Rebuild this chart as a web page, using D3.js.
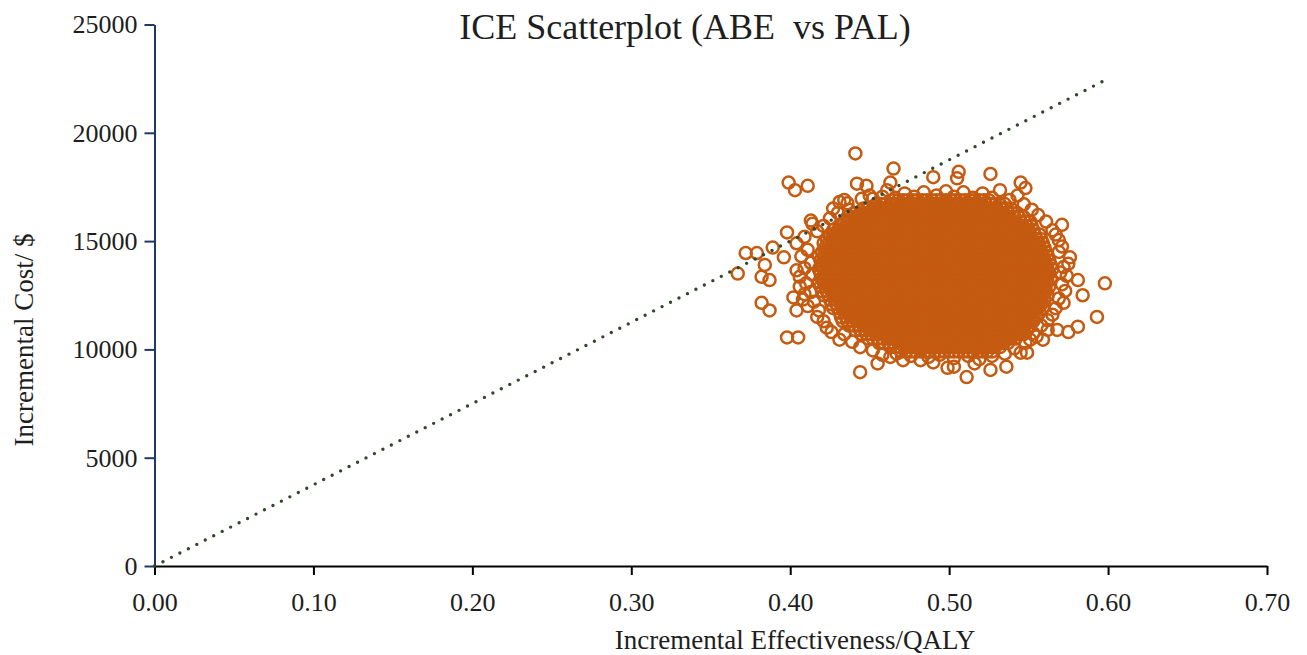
<!DOCTYPE html>
<html>
<head>
  <meta charset="UTF-8">
  <title>ICE Scatterplot (ABE vs PAL)</title>
  <style>
    body {
        margin: 0;
        background: #fff;
    }
    text {
        font-family: "Liberation Serif", "Times New Roman", serif;
        fill: #1e1e1e;
    }
  </style>
</head>
<body>
<svg id="chart"></svg>

<script src="https://d3js.org/d3.v7.min.js"></script>
<script>

// Axis ticks
const xTicks = [0, 0.1, 0.2, 0.3, 0.4, 0.5, 0.6, 0.7];
const yTicks = [0, 5000, 10000, 15000, 20000, 25000];

// Willingness-to-pay threshold line (dotted)
const wtpQaly = [0, 0.6];
const wtpCost = [0, 22500];

// Dense middle of the cloud: one cost level per row, incremental QALY values along the row
const coreCost = [16890, 16710, 16500, 16290, 16110, 15900, 15690, 15510, 15300, 15090,
                  14910, 14700, 14490, 14310, 14100, 13890, 13710, 13500, 13290, 13110,
                  12900, 12690, 12510, 12300, 12090, 11910, 11700, 11490, 11310, 11100,
                  10890, 10710, 10500, 10290, 10110, 9900];
const coreQaly = [
  [0.465,0.468,0.471,0.474,0.477,0.480,0.483,0.486,0.489,0.492,0.495,0.498,0.501,0.504,0.507,0.510,0.513,0.516,0.519,0.522,0.525],
  [0.454,0.457,0.460,0.463,0.466,0.469,0.472,0.475,0.478,0.481,0.484,0.487,0.490,0.493,0.496,0.499,0.502,0.505,0.508,0.511,0.514,0.517,0.520,0.523,0.526,0.529,0.532,0.535],
  [0.446,0.449,0.452,0.455,0.458,0.461,0.464,0.467,0.470,0.473,0.476,0.479,0.482,0.485,0.488,0.491,0.494,0.497,0.500,0.503,0.506,0.509,0.512,0.515,0.518,0.521,0.524,0.527,0.530,0.533,0.536,0.539],
  [0.441,0.444,0.447,0.450,0.453,0.456,0.459,0.462,0.465,0.468,0.471,0.474,0.477,0.480,0.483,0.486,0.489,0.492,0.495,0.498,0.501,0.504,0.507,0.510,0.513,0.516,0.519,0.522,0.525,0.528,0.531,0.534,0.537,0.540,0.543],
  [0.436,0.439,0.442,0.445,0.448,0.451,0.454,0.457,0.460,0.463,0.466,0.469,0.472,0.475,0.478,0.481,0.484,0.487,0.490,0.493,0.496,0.499,0.502,0.505,0.508,0.511,0.514,0.517,0.520,0.523,0.526,0.529,0.532,0.535,0.538,0.541,0.544,0.547],
  [0.434,0.437,0.440,0.443,0.446,0.449,0.452,0.455,0.458,0.461,0.464,0.467,0.470,0.473,0.476,0.479,0.482,0.485,0.488,0.491,0.494,0.497,0.500,0.503,0.506,0.509,0.512,0.515,0.518,0.521,0.524,0.527,0.530,0.533,0.536,0.539,0.542,0.545,0.548,0.551],
  [0.432,0.435,0.438,0.441,0.444,0.447,0.450,0.453,0.456,0.459,0.462,0.465,0.468,0.471,0.474,0.477,0.480,0.483,0.486,0.489,0.492,0.495,0.498,0.501,0.504,0.507,0.510,0.513,0.516,0.519,0.522,0.525,0.528,0.531,0.534,0.537,0.540,0.543,0.546,0.549,0.552],
  [0.427,0.430,0.433,0.436,0.439,0.442,0.445,0.448,0.451,0.454,0.457,0.460,0.463,0.466,0.469,0.472,0.475,0.478,0.481,0.484,0.487,0.490,0.493,0.496,0.499,0.502,0.505,0.508,0.511,0.514,0.517,0.520,0.523,0.526,0.529,0.532,0.535,0.538,0.541,0.544,0.547,0.550,0.553],
  [0.425,0.428,0.431,0.434,0.437,0.440,0.443,0.446,0.449,0.452,0.455,0.458,0.461,0.464,0.467,0.470,0.473,0.476,0.479,0.482,0.485,0.488,0.491,0.494,0.497,0.500,0.503,0.506,0.509,0.512,0.515,0.518,0.521,0.524,0.527,0.530,0.533,0.536,0.539,0.542,0.545,0.548,0.551,0.554,0.557],
  [0.423,0.426,0.429,0.432,0.435,0.438,0.441,0.444,0.447,0.450,0.453,0.456,0.459,0.462,0.465,0.468,0.471,0.474,0.477,0.480,0.483,0.486,0.489,0.492,0.495,0.498,0.501,0.504,0.507,0.510,0.513,0.516,0.519,0.522,0.525,0.528,0.531,0.534,0.537,0.540,0.543,0.546,0.549,0.552,0.555,0.558],
  [0.421,0.424,0.427,0.430,0.433,0.436,0.439,0.442,0.445,0.448,0.451,0.454,0.457,0.460,0.463,0.466,0.469,0.472,0.475,0.478,0.481,0.484,0.487,0.490,0.493,0.496,0.499,0.502,0.505,0.508,0.511,0.514,0.517,0.520,0.523,0.526,0.529,0.532,0.535,0.538,0.541,0.544,0.547,0.550,0.553,0.556,0.559],
  [0.422,0.425,0.428,0.431,0.434,0.437,0.440,0.443,0.446,0.449,0.452,0.455,0.458,0.461,0.464,0.467,0.470,0.473,0.476,0.479,0.482,0.485,0.488,0.491,0.494,0.497,0.500,0.503,0.506,0.509,0.512,0.515,0.518,0.521,0.524,0.527,0.530,0.533,0.536,0.539,0.542,0.545,0.548,0.551,0.554,0.557,0.560],
  [0.420,0.423,0.426,0.429,0.432,0.435,0.438,0.441,0.444,0.447,0.450,0.453,0.456,0.459,0.462,0.465,0.468,0.471,0.474,0.477,0.480,0.483,0.486,0.489,0.492,0.495,0.498,0.501,0.504,0.507,0.510,0.513,0.516,0.519,0.522,0.525,0.528,0.531,0.534,0.537,0.540,0.543,0.546,0.549,0.552,0.555,0.558,0.561],
  [0.418,0.421,0.424,0.427,0.430,0.433,0.436,0.439,0.442,0.445,0.448,0.451,0.454,0.457,0.460,0.463,0.466,0.469,0.472,0.475,0.478,0.481,0.484,0.487,0.490,0.493,0.496,0.499,0.502,0.505,0.508,0.511,0.514,0.517,0.520,0.523,0.526,0.529,0.532,0.535,0.538,0.541,0.544,0.547,0.550,0.553,0.556,0.559,0.562],
  [0.419,0.422,0.425,0.428,0.431,0.434,0.437,0.440,0.443,0.446,0.449,0.452,0.455,0.458,0.461,0.464,0.467,0.470,0.473,0.476,0.479,0.482,0.485,0.488,0.491,0.494,0.497,0.500,0.503,0.506,0.509,0.512,0.515,0.518,0.521,0.524,0.527,0.530,0.533,0.536,0.539,0.542,0.545,0.548,0.551,0.554,0.557,0.560,0.563],
  [0.420,0.423,0.426,0.429,0.432,0.435,0.438,0.441,0.444,0.447,0.450,0.453,0.456,0.459,0.462,0.465,0.468,0.471,0.474,0.477,0.480,0.483,0.486,0.489,0.492,0.495,0.498,0.501,0.504,0.507,0.510,0.513,0.516,0.519,0.522,0.525,0.528,0.531,0.534,0.537,0.540,0.543,0.546,0.549,0.552,0.555,0.558,0.561,0.564],
  [0.418,0.421,0.424,0.427,0.430,0.433,0.436,0.439,0.442,0.445,0.448,0.451,0.454,0.457,0.460,0.463,0.466,0.469,0.472,0.475,0.478,0.481,0.484,0.487,0.490,0.493,0.496,0.499,0.502,0.505,0.508,0.511,0.514,0.517,0.520,0.523,0.526,0.529,0.532,0.535,0.538,0.541,0.544,0.547,0.550,0.553,0.556,0.559,0.562,0.565],
  [0.419,0.422,0.425,0.428,0.431,0.434,0.437,0.440,0.443,0.446,0.449,0.452,0.455,0.458,0.461,0.464,0.467,0.470,0.473,0.476,0.479,0.482,0.485,0.488,0.491,0.494,0.497,0.500,0.503,0.506,0.509,0.512,0.515,0.518,0.521,0.524,0.527,0.530,0.533,0.536,0.539,0.542,0.545,0.548,0.551,0.554,0.557,0.560,0.563],
  [0.420,0.423,0.426,0.429,0.432,0.435,0.438,0.441,0.444,0.447,0.450,0.453,0.456,0.459,0.462,0.465,0.468,0.471,0.474,0.477,0.480,0.483,0.486,0.489,0.492,0.495,0.498,0.501,0.504,0.507,0.510,0.513,0.516,0.519,0.522,0.525,0.528,0.531,0.534,0.537,0.540,0.543,0.546,0.549,0.552,0.555,0.558,0.561,0.564],
  [0.418,0.421,0.424,0.427,0.430,0.433,0.436,0.439,0.442,0.445,0.448,0.451,0.454,0.457,0.460,0.463,0.466,0.469,0.472,0.475,0.478,0.481,0.484,0.487,0.490,0.493,0.496,0.499,0.502,0.505,0.508,0.511,0.514,0.517,0.520,0.523,0.526,0.529,0.532,0.535,0.538,0.541,0.544,0.547,0.550,0.553,0.556,0.559,0.562],
  [0.419,0.422,0.425,0.428,0.431,0.434,0.437,0.440,0.443,0.446,0.449,0.452,0.455,0.458,0.461,0.464,0.467,0.470,0.473,0.476,0.479,0.482,0.485,0.488,0.491,0.494,0.497,0.500,0.503,0.506,0.509,0.512,0.515,0.518,0.521,0.524,0.527,0.530,0.533,0.536,0.539,0.542,0.545,0.548,0.551,0.554,0.557,0.560,0.563],
  [0.420,0.423,0.426,0.429,0.432,0.435,0.438,0.441,0.444,0.447,0.450,0.453,0.456,0.459,0.462,0.465,0.468,0.471,0.474,0.477,0.480,0.483,0.486,0.489,0.492,0.495,0.498,0.501,0.504,0.507,0.510,0.513,0.516,0.519,0.522,0.525,0.528,0.531,0.534,0.537,0.540,0.543,0.546,0.549,0.552,0.555,0.558,0.561],
  [0.421,0.424,0.427,0.430,0.433,0.436,0.439,0.442,0.445,0.448,0.451,0.454,0.457,0.460,0.463,0.466,0.469,0.472,0.475,0.478,0.481,0.484,0.487,0.490,0.493,0.496,0.499,0.502,0.505,0.508,0.511,0.514,0.517,0.520,0.523,0.526,0.529,0.532,0.535,0.538,0.541,0.544,0.547,0.550,0.553,0.556,0.559,0.562],
  [0.425,0.428,0.431,0.434,0.437,0.440,0.443,0.446,0.449,0.452,0.455,0.458,0.461,0.464,0.467,0.470,0.473,0.476,0.479,0.482,0.485,0.488,0.491,0.494,0.497,0.500,0.503,0.506,0.509,0.512,0.515,0.518,0.521,0.524,0.527,0.530,0.533,0.536,0.539,0.542,0.545,0.548,0.551,0.554,0.557,0.560],
  [0.426,0.429,0.432,0.435,0.438,0.441,0.444,0.447,0.450,0.453,0.456,0.459,0.462,0.465,0.468,0.471,0.474,0.477,0.480,0.483,0.486,0.489,0.492,0.495,0.498,0.501,0.504,0.507,0.510,0.513,0.516,0.519,0.522,0.525,0.528,0.531,0.534,0.537,0.540,0.543,0.546,0.549,0.552,0.555,0.558],
  [0.427,0.430,0.433,0.436,0.439,0.442,0.445,0.448,0.451,0.454,0.457,0.460,0.463,0.466,0.469,0.472,0.475,0.478,0.481,0.484,0.487,0.490,0.493,0.496,0.499,0.502,0.505,0.508,0.511,0.514,0.517,0.520,0.523,0.526,0.529,0.532,0.535,0.538,0.541,0.544,0.547,0.550,0.553,0.556,0.559],
  [0.431,0.434,0.437,0.440,0.443,0.446,0.449,0.452,0.455,0.458,0.461,0.464,0.467,0.470,0.473,0.476,0.479,0.482,0.485,0.488,0.491,0.494,0.497,0.500,0.503,0.506,0.509,0.512,0.515,0.518,0.521,0.524,0.527,0.530,0.533,0.536,0.539,0.542,0.545,0.548,0.551,0.554,0.557],
  [0.432,0.435,0.438,0.441,0.444,0.447,0.450,0.453,0.456,0.459,0.462,0.465,0.468,0.471,0.474,0.477,0.480,0.483,0.486,0.489,0.492,0.495,0.498,0.501,0.504,0.507,0.510,0.513,0.516,0.519,0.522,0.525,0.528,0.531,0.534,0.537,0.540,0.543,0.546,0.549,0.552,0.555],
  [0.433,0.436,0.439,0.442,0.445,0.448,0.451,0.454,0.457,0.460,0.463,0.466,0.469,0.472,0.475,0.478,0.481,0.484,0.487,0.490,0.493,0.496,0.499,0.502,0.505,0.508,0.511,0.514,0.517,0.520,0.523,0.526,0.529,0.532,0.535,0.538,0.541,0.544,0.547,0.550,0.553],
  [0.437,0.440,0.443,0.446,0.449,0.452,0.455,0.458,0.461,0.464,0.467,0.470,0.473,0.476,0.479,0.482,0.485,0.488,0.491,0.494,0.497,0.500,0.503,0.506,0.509,0.512,0.515,0.518,0.521,0.524,0.527,0.530,0.533,0.536,0.539,0.542,0.545,0.548,0.551],
  [0.441,0.444,0.447,0.450,0.453,0.456,0.459,0.462,0.465,0.468,0.471,0.474,0.477,0.480,0.483,0.486,0.489,0.492,0.495,0.498,0.501,0.504,0.507,0.510,0.513,0.516,0.519,0.522,0.525,0.528,0.531,0.534,0.537,0.540,0.543,0.546,0.549],
  [0.445,0.448,0.451,0.454,0.457,0.460,0.463,0.466,0.469,0.472,0.475,0.478,0.481,0.484,0.487,0.490,0.493,0.496,0.499,0.502,0.505,0.508,0.511,0.514,0.517,0.520,0.523,0.526,0.529,0.532,0.535,0.538,0.541,0.544,0.547],
  [0.449,0.452,0.455,0.458,0.461,0.464,0.467,0.470,0.473,0.476,0.479,0.482,0.485,0.488,0.491,0.494,0.497,0.500,0.503,0.506,0.509,0.512,0.515,0.518,0.521,0.524,0.527,0.530,0.533,0.536,0.539,0.542],
  [0.456,0.459,0.462,0.465,0.468,0.471,0.474,0.477,0.480,0.483,0.486,0.489,0.492,0.495,0.498,0.501,0.504,0.507,0.510,0.513,0.516,0.519,0.522,0.525,0.528,0.531,0.534,0.537],
  [0.463,0.466,0.469,0.472,0.475,0.478,0.481,0.484,0.487,0.490,0.493,0.496,0.499,0.502,0.505,0.508,0.511,0.514,0.517,0.520,0.523,0.526,0.529,0.532],
  [0.470,0.473,0.476,0.479,0.482,0.485,0.488,0.491,0.494,0.497,0.500,0.503,0.506,0.509,0.512,0.515,0.518,0.521,0.524,0.527]
];

// Scattered simulations around the cloud: [incremental QALY, incremental cost]
const outerPoints = [
  [0.441,19050],[0.465,18350],[0.506,18200],[0.505,17900],[0.526,18100],[0.545,17700],
  [0.399,17700],[0.403,17350],[0.411,17550],[0.442,17650],[0.448,17550],[0.490,17950],
  [0.598,13050],[0.593,11500],[0.584,12500],[0.581,11050],[0.575,10800],[0.568,10900],[0.562,10900],
  [0.444,8950],[0.511,8720],
  [0.367,13500],[0.372,14450],[0.379,14450],[0.382,13350],[0.387,13200],[0.382,12150],[0.387,11800],
  [0.398,10550],[0.405,10550],
  [0.571,15750],[0.569,15050],[0.576,14250],[0.575,13950],[0.581,13200],
  [0.536,9200],[0.526,9050],[0.503,9200],[0.551,10450],[0.545,9850],
  [0.431,16800],[0.436,16750],[0.461,17350],[0.463,17700],[0.413,15950],[0.414,15800],[0.398,15400],
  [0.389,14700],[0.396,14250],[0.384,13900],[0.404,13650],[0.406,13350],[0.406,12900],[0.402,12400],
  [0.408,12300],[0.404,11800],[0.417,11500],[0.423,11000],[0.431,10450],[0.444,10100],[0.452,9950],
  [0.455,9350],[0.463,9650],[0.471,9500],[0.482,9500],[0.499,9150],[0.549,9850],[0.559,10450],
  [0.458,9750],[0.467,9800],[0.476,9700],[0.487,9650],[0.494,9750],[0.503,9600],[0.512,9700],
  [0.519,9550],[0.527,9700],[0.535,9800],[0.541,10050],[0.490,9400],[0.516,9350],
  [0.409,15200],[0.404,14900],[0.411,14600],[0.407,14300],[0.413,14000],[0.409,13750],[0.414,13450],
  [0.410,13050],[0.413,12650],[0.409,12550],[0.415,12200],[0.411,12000],[0.418,11800],[0.421,11300],
  [0.426,10800],[0.434,10700],[0.439,10350],[0.417,15450],[0.421,15700],[0.425,16050],[0.430,16300],
  [0.437,16450],[0.427,16500],[0.434,16900],[0.445,16950],[0.450,17100],
  [0.452,16950],[0.458,17050],[0.466,17000],[0.472,17200],[0.478,17050],[0.484,17250],[0.492,17100],
  [0.498,17300],[0.503,17050],[0.509,17250],[0.515,17000],[0.521,17200],[0.527,17000],[0.532,17350],
  [0.538,16900],[0.543,17100],[0.547,16700],[0.552,16450],[0.556,16200],[0.548,17450],
  [0.561,15900],[0.565,15500],[0.567,15300],[0.571,14750],[0.569,14500],[0.572,13800],[0.570,13550],
  [0.574,13400],[0.571,13000],[0.573,12700],[0.569,12350],[0.572,12150],[0.567,11900],[0.565,11600],
  [0.562,11350],[0.558,11100],[0.553,10750],[0.555,10600],[0.548,10300]
];

let width = 1307, height = 655;

let svg = d3.select("#chart")
    .attr("width", width)
    .attr("height", height);

// Scales
let x = d3.scaleLinear().domain([0, 0.7]).range([154.5, 1267]);
let y = d3.scaleLinear().domain([0, 25000]).range([566, 24.5]);

// Put all simulations in one list
let points = [];
coreCost.forEach(function (c, i) {
    coreQaly[i].forEach(function (q) {
        points.push([q, c]);
    });
});
points = outerPoints.concat(points);

// Scatter (hollow circles)
svg.append("g")
    .selectAll("circle")
    .data(points)
    .enter()
    .append("circle")
    .attr("cx", d => x(d[0]))
    .attr("cy", d => y(d[1]))
    .attr("r", 6)
    .style("fill", "none")
    .style("stroke", "#c55a11")
    .style("stroke-width", 2.5);

// X axis
let xAxis = svg.append("g")
    .attr("transform", "translate(0," + y(0) + ")")
    .call(d3.axisBottom(x)
        .tickValues(xTicks)
        .tickFormat(d3.format(".2f"))
        .tickSize(9)
        .tickPadding(18)
        .tickSizeOuter(0));
xAxis.select(".domain").style("stroke", "#000").style("stroke-width", 2);
xAxis.selectAll(".tick line").style("stroke", "#000").style("stroke-width", 2);
xAxis.selectAll("text")
    .attr("font-size", 26)
    .attr("font-family", "Liberation Serif, serif");

// Y axis
let yAxis = svg.append("g")
    .attr("transform", "translate(" + x(0) + ",0)")
    .call(d3.axisLeft(y)
        .tickValues(yTicks)
        .tickFormat(d => d)
        .tickSize(10)
        .tickPadding(7)
        .tickSizeOuter(0));
yAxis.select(".domain").style("stroke", "#1f3864").style("stroke-width", 2);
yAxis.selectAll(".tick line").style("stroke", "#1f3864").style("stroke-width", 2);
yAxis.selectAll("text")
    .attr("font-size", 26)
    .attr("font-family", "Liberation Serif, serif");

// WTP threshold line, drawn over the cloud
let wtp = wtpQaly.map((q, i) => [q, wtpCost[i]]);
svg.append("path")
    .datum(wtp)
    .attr("d", d3.line().x(d => x(d[0])).y(d => y(d[1])))
    .style("fill", "none")
    .style("stroke", "#30472c")
    .style("stroke-width", 3.4)
    .style("stroke-linecap", "round")
    .style("stroke-dasharray", "0 9.5");

// Title and axis labels
svg.append("text")
    .attr("x", 685)
    .attr("y", 39)
    .attr("text-anchor", "middle")
    .attr("font-size", 36)
    .style("white-space", "pre")
    .text("ICE Scatterplot (ABE  vs PAL)");

svg.append("text")
    .attr("x", 795)
    .attr("y", 649)
    .attr("text-anchor", "middle")
    .attr("font-size", 27)
    .text("Incremental Effectiveness/QALY");

svg.append("text")
    .attr("transform", "translate(33,340) rotate(-90)")
    .attr("text-anchor", "middle")
    .attr("font-size", 27)
    .text("Incremental Cost/ $");

</script>
</body>
</html>
